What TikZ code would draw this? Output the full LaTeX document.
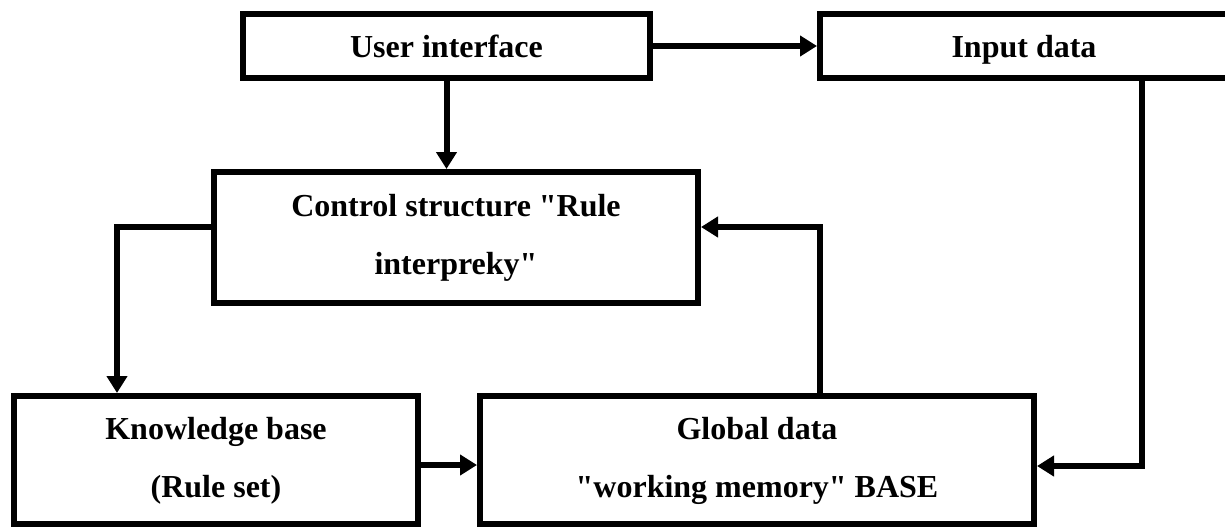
\documentclass[tikz,border=0pt]{standalone}
\usepackage{fontspec}
\setmainfont{Liberation Serif}
\usetikzlibrary{arrows.meta}
\tikzset{
  block/.style={
    draw,
    rectangle,
    line width=6pt,
    inner sep=0pt,
    align=center,
    font=\fontsize{32}{58}\selectfont\bfseries,
    execute at begin node=\strut,
    execute at end node=\strut
  },
  twoline/.style={
    execute at begin node=\rule{0pt}{92pt}
  },
  link/.style={
    line width=6pt,
    -{Triangle[length=17pt,width=20pt]}
  }
}

\begin{document}
\begin{tikzpicture}[x=1pt,y=-1pt]
    \clip (0,0) rectangle (1225,527);
    \node[block, minimum width=407pt, minimum height=64pt] (ui) at (446.5,46) {User interface};
    \node[block, minimum width=408pt, minimum height=64pt] (inp) at (1024,46) {Input data};
    \node[block, twoline, minimum width=484pt, minimum height=131pt] (ctrl) at (456,237.5)
      {Control structure \textquotedbl Rule\\interpreky\textquotedbl};
    \node[block, twoline, minimum width=404pt, minimum height=128pt] (kb) at (216,460)
      {Knowledge base\\(Rule set)};
    \node[block, twoline, minimum width=554pt, minimum height=128pt] (glob) at (757,460)
      {Global data\\\textquotedbl working memory\textquotedbl{} BASE};

    % bends of the connectors
    \coordinate (lft) at (117,227);
    \coordinate (fb) at (820,227);
    \coordinate (rgt) at (1142,466);

    \draw[link] (ui.east) -- (inp.west);
    \draw[link] (ui.south) -- (ui.south |- ctrl.north);
    \draw[link] (ctrl.west |- lft) -- (lft) -- (lft |- kb.north);
    \draw[link] (glob.north -| fb) -- (fb) -- (ctrl.east |- fb);
    \draw[link] (inp.south -| rgt) -- (rgt) -- (glob.east |- rgt);
    \draw[link] ([yshift=-5pt]kb.east) -- ([yshift=-5pt]glob.west);
\end{tikzpicture}
\end{document}
